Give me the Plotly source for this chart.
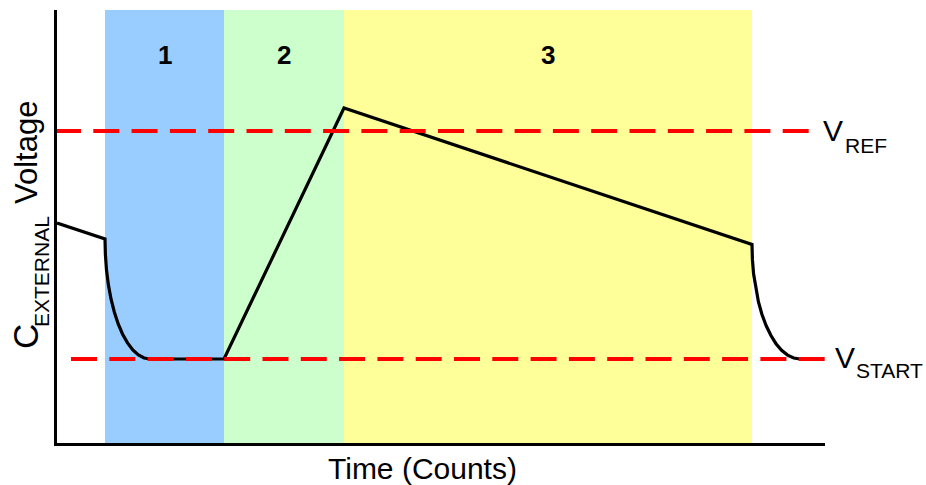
import plotly.graph_objects as go

# ---- data (time in counts, voltage in arbitrary units) ----
band_edges = [48, 167, 287, 695]
band_labels = ["1", "2", "3"]
band_colors = ["#99CCFF", "#CCFFCC", "#FFFF99"]

curve_time = [0, 48, 48.4, 49.5, 51.4, 54.0, 57.3, 61.2, 65.6, 70.5, 75.8, 81.4, 87.1, 93,
              167, 287, 695,
              695.4, 696.6, 698.7, 701.4, 704.9, 709.1, 713.8, 719, 724.6, 730.6, 736.7, 743]
curve_voltage = [220, 204, 188.3, 173.0, 158.1, 144, 131.0, 119.1, 108.8, 100.1, 93.1, 88.1, 85.0, 84,
                 84, 335, 198.5,
                 183.6, 168.9, 154.7, 141.3, 128.8, 117.5, 107.7, 99.3, 92.7, 87.9, 85.0, 84]

v_ref = 312
v_ref_span = [-2, 752]
v_start = 84
v_start_span = [14, 768]

FONT = "Liberation Sans, Arial, sans-serif"

# plot area in page pixels
PL, PR, PT, PB = 57, 825, 10, 443
W, H = 926, 485


def px(xp):
    return (xp - PL) / (PR - PL)


def py(yp):
    return (PB - yp) / (PB - PT)


fig = go.Figure()


def label(text, xp, yp, size, xanchor="center", angle=0, xref="paper", x=None):
    fig.add_annotation(x=px(xp) if x is None else x, y=py(yp), xref=xref, yref="paper",
                       text=text, showarrow=False, xanchor=xanchor, yanchor="middle",
                       textangle=angle, font=dict(family=FONT, size=size, color="black"))


# background bands
for i, lab in enumerate(band_labels):
    x0, x1 = band_edges[i], band_edges[i + 1]
    fig.add_shape(type="rect", xref="x", yref="paper", x0=x0, x1=x1, y0=0, y1=1,
                  fillcolor=band_colors[i], line=dict(width=0), layer="below")
    label("<b>%s</b>" % lab, 0, 55, 26, xref="x", x=(x0 + x1) / 2)

# capacitor voltage curve
fig.add_trace(go.Scatter(x=curve_time, y=curve_voltage, mode="lines",
                         line=dict(color="black", width=3.2), hoverinfo="skip", showlegend=False))

# reference levels
fig.add_trace(go.Scatter(x=v_ref_span, y=[v_ref, v_ref], mode="lines",
                         line=dict(color="#FF0000", width=4, dash="26px,12.3px"),
                         hoverinfo="skip", showlegend=False))
fig.add_trace(go.Scatter(x=v_start_span, y=[v_start, v_start], mode="lines",
                         line=dict(color="#FF0000", width=4, dash="26px,12.3px"),
                         hoverinfo="skip", showlegend=False))

# level labels
label("V", 833, 131, 30)
label("REF", 843, 145, 21, xanchor="left")
label("V", 845, 357, 30)
label("START", 854, 370, 21, xanchor="left")

# axis titles
label("Time (Counts)", 422.5, 468, 30)
label("Voltage", 26, 153, 31, angle=-90)
label("C", 25, 337, 35, angle=-90)
label("EXTERNAL", 41, 272, 21, angle=-90)

fig.update_xaxes(range=[0, 768], showline=True, linecolor="black", linewidth=3,
                 showgrid=False, zeroline=False, showticklabels=False, ticks="")
fig.update_yaxes(range=[0, 433], showline=True, linecolor="black", linewidth=3,
                 showgrid=False, zeroline=False, showticklabels=False, ticks="")

fig.update_layout(width=W, height=H,
                  margin=dict(l=PL, r=W - PR, t=PT, b=H - PB, pad=0),
                  plot_bgcolor="white", paper_bgcolor="white")

fig.write_html("out.html", config={"displayModeBar": False},
               post_script="document.body.style.margin='0';document.body.style.overflow='hidden';")
